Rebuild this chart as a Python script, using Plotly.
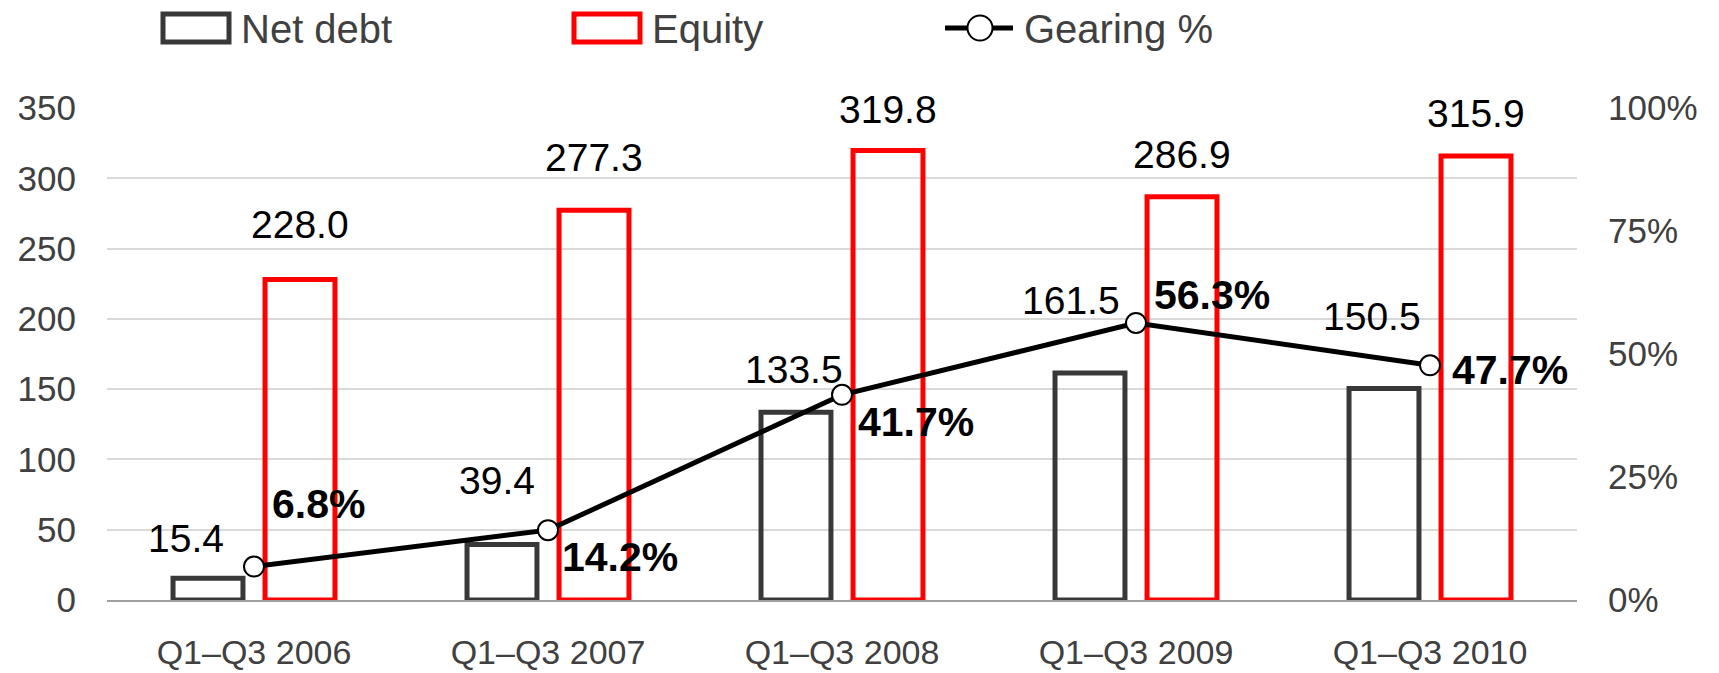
import plotly.graph_objects as go

# ---------------- data ----------------
categories = ["Q1–Q3 2006", "Q1–Q3 2007", "Q1–Q3 2008", "Q1–Q3 2009", "Q1–Q3 2010"]
net_debt = [15.4, 39.4, 133.5, 161.5, 150.5]
equity = [228.0, 277.3, 319.8, 286.9, 315.9]
gearing = [6.8, 14.2, 41.7, 56.3, 47.7]
left_ticks = [0, 50, 100, 150, 200, 250, 300, 350]
right_ticks = [0, 25, 50, 75, 100]
right_tick_text = ["0%", "25%", "50%", "75%", "100%"]
series_names = ["Net debt", "Equity", "Gearing %"]

# ---------------- style ----------------
FONT = "Liberation Sans, Arial, sans-serif"
GREY = "#404040"
RED = "#ff0000"
W, H = 1719, 673
ML, MR, MT, MB = 107, 142, 108, 73
PW, PH = W - ML - MR, H - MT - MB

# label offsets (pixels) — positions only
nd_dx = [-68, -51, -48, -65, -58]
nd_dy = [40, 64, 43, 72, 72]
eq_dx = [46, 46, 46, 46, 46]
eq_dy = [55, 53, 41, 42, 42]
g_dx = [16, 12, 14, 16, 20]
g_dy = [63, -27, -27, 28, -5]

fig = go.Figure()
fig.add_trace(go.Bar(
    x=categories, y=net_debt, name=series_names[0],
    marker=dict(color="rgba(255,255,255,0)", line=dict(color="#383838", width=5)),
    showlegend=False, hoverinfo="skip",
))
fig.add_trace(go.Bar(
    x=categories, y=equity, name=series_names[1],
    marker=dict(color="rgba(255,255,255,0)", line=dict(color=RED, width=5)),
    showlegend=False, hoverinfo="skip",
))
fig.add_trace(go.Scatter(
    x=categories, y=gearing, name=series_names[2], yaxis="y2", mode="lines+markers",
    line=dict(color="black", width=5),
    marker=dict(symbol="circle", size=20, color="white", line=dict(color="black", width=2)),
    showlegend=False, hoverinfo="skip",
))

ann = []
for i, c in enumerate(categories):
    ann.append(dict(x=c, y=net_debt[i], xref="x", yref="y", text=f"{net_debt[i]:.1f}",
                    showarrow=False, xshift=nd_dx[i], yshift=nd_dy[i],
                    xanchor="center", yanchor="middle",
                    font=dict(family=FONT, size=39, color="black")))
    ann.append(dict(x=c, y=equity[i], xref="x", yref="y", text=f"{equity[i]:.1f}",
                    showarrow=False, xshift=eq_dx[i], yshift=eq_dy[i],
                    xanchor="center", yanchor="middle",
                    font=dict(family=FONT, size=39, color="black")))
    ann.append(dict(x=c, y=gearing[i], xref="x", yref="y2", text=f"<b>{gearing[i]:.1f}%</b>",
                    showarrow=False, xshift=g_dx[i], yshift=g_dy[i],
                    xanchor="left", yanchor="middle",
                    font=dict(family=FONT, size=41, color="black")))

# custom legend (pixel -> paper)
def px(xp):
    return (xp - ML) / PW
def py(yp):
    return (H - MB - yp) / PH

shapes = []
legend_items = [
    (163, 229, "#383838", series_names[0], 239),
    (574, 640, RED, series_names[1], 650),
]
for x0, x1, col, name, tx in legend_items:
    shapes.append(dict(type="rect", xref="paper", yref="paper",
                       x0=px(x0), x1=px(x1), y0=py(42), y1=py(14),
                       line=dict(color=col, width=5), fillcolor="white"))
    ann.append(dict(x=px(tx), y=py(29), xref="paper", yref="paper", text=name,
                    showarrow=False, xanchor="left", yanchor="middle",
                    font=dict(family=FONT, size=40, color=GREY)))
shapes.append(dict(type="line", xref="paper", yref="paper",
                   x0=px(945), x1=px(1013), y0=py(28), y1=py(28),
                   line=dict(color="black", width=5)))
shapes.append(dict(type="circle", xref="paper", yref="paper",
                   x0=px(967.5), x1=px(992.5), y0=py(40.5), y1=py(15.5),
                   line=dict(color="black", width=2), fillcolor="white"))
ann.append(dict(x=px(1022), y=py(29), xref="paper", yref="paper", text=series_names[2],
                showarrow=False, xanchor="left", yanchor="middle",
                font=dict(family=FONT, size=40, color=GREY)))

fig.update_layout(
    width=W, height=H,
    margin=dict(l=ML, r=MR, t=MT, b=MB, pad=0, autoexpand=False),
    paper_bgcolor="white", plot_bgcolor="white",
    barmode="group", bargap=0.374, bargroupgap=0.24,
    showlegend=False,
    annotations=ann, shapes=shapes,
    xaxis=dict(showgrid=False, showline=True, linecolor="#a0a0a0", linewidth=1.5,
               ticks="", ticklabelstandoff=21, automargin=False,
               tickfont=dict(family=FONT, size=34, color=GREY)),
    yaxis=dict(range=[0, 350], tickvals=left_ticks, showgrid=True, gridcolor="#d9d9d9",
               gridwidth=1.5, zeroline=False, showline=False, ticks="",
               ticklabelstandoff=30, automargin=False,
               tickfont=dict(family=FONT, size=35, color=GREY)),
    yaxis2=dict(range=[0, 100], tickvals=right_ticks, ticktext=right_tick_text,
                overlaying="y", side="right", showgrid=False, zeroline=False,
                showline=False, ticks="", ticklabelstandoff=30, automargin=False,
                tickfont=dict(family=FONT, size=35, color=GREY)),
)

fig.write_html("out.html", config={"displayModeBar": False},
               post_script="document.body.style.margin='0px';")
